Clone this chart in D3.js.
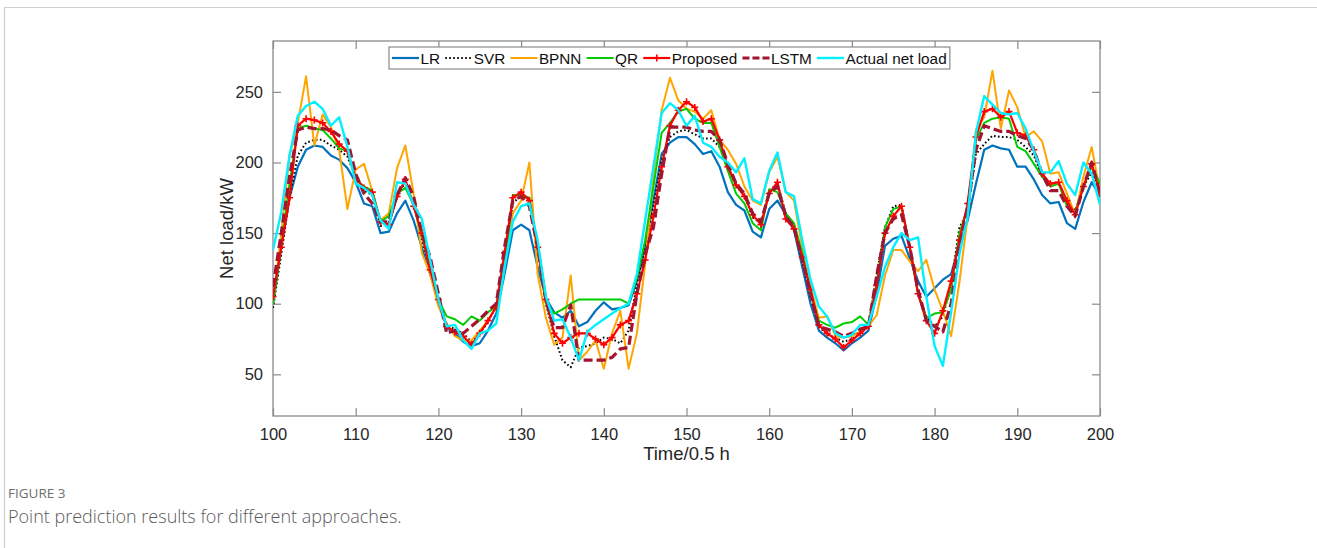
<!DOCTYPE html>
<html>
<head>
<meta charset="utf-8">
<script src="https://cdn.jsdelivr.net/npm/d3@7"></script>
<style>
  body { margin: 0; background: #fff; }
  text { font-family: Arial, "Liberation Sans", sans-serif; }
</style>
</head>
<body>
<svg id="grafica"></svg>
<script>
// Point prediction results, t = 100 ... 200 (half-hour steps)

const svg_w = 1317;
const svg_h = 548;
const margin = {l: 273, r: 217, t: 41, b: 132};

const t_start = 100; // first time step, one value per step after it

const x_ticks = [100, 110, 120, 130, 140, 150, 160, 170, 180, 190, 200];
const y_ticks = [50, 100, 150, 200, 250];
const x_limits = [100, 200];
const y_limits = [20.5, 286];

const series_names = ["LR", "SVR", "BPNN", "QR", "Proposed", "LSTM", "Actual net load"];

const lr = [100,140,175,197,209,212,211,205,202,196,186,171,169,150,151,164,173,159,140,121,
  102,83,79,73,70,72,81,93,121,152,156,152,126,104,94,90,95,84,87,95,
  101,96,97,99,116,140,173,206,214,218,218,213,206,208,197,179,170,166,151,147,
  167,173,163,152,126,100,81,76,72,67,72,76,81,107,141,146,148,132,116,105,
  111,117,121,142,159,185,209,212,210,209,197,197,188,177,171,172,157,153,172,186,176];

const svr = [97,135,175,205,214,216,216,212,209,204,190,180,177,155,157,175,186,171,145,124,
  102,85,82,79,73,79,87,98,131,171,177,173,140,100,77,60,55,69,70,72,
  76,75,72,81,114,140,169,202,218,222,223,220,217,217,211,198,183,177,161,157,
  180,185,164,156,130,105,84,78,76,73,75,79,84,121,154,169,170,140,107,91,
  84,91,114,154,165,206,213,219,218,218,216,211,205,190,185,186,171,166,183,193,179];

const bpnn = [100,150,205,228,261,212,234,225,209,167,195,199,180,159,164,196,212,178,136,121,
  98,86,77,74,74,81,88,98,126,164,173,200,121,90,71,76,120,60,66,74,
  54,79,95,54,79,128,190,237,260,244,238,236,231,237,216,209,199,183,173,170,
  193,204,179,173,140,112,90,91,77,76,77,80,84,92,120,138,138,130,123,131,
  110,95,77,115,162,223,232,265,224,251,239,218,222,215,192,193,178,163,190,211,179];

const qr = [100,140,185,224,226,224,223,217,210,208,188,183,180,158,162,178,182,170,148,125,
  103,91,89,85,91,88,94,98,126,177,177,175,140,100,93,96,100,103,103,103,
  103,103,103,100,118,145,183,221,228,236,238,231,228,228,211,194,178,171,157,152,
  181,179,164,157,136,107,88,85,83,86,87,91,85,115,154,167,169,140,107,90,
  93,94,110,150,168,216,228,231,232,231,211,208,199,190,183,185,169,164,183,197,185];

const proposed = [105,140,175,226,231,230,228,222,213,208,189,182,179,158,156,176,188,169,150,124,
  103,84,80,77,71,79,88,98,136,175,179,173,140,103,79,72,76,79,79,75,
  71,76,85,88,107,131,162,197,226,237,243,239,229,231,216,197,184,176,163,156,
  178,186,160,153,133,110,85,79,75,69,74,79,84,113,150,162,169,140,107,88,
  79,95,116,145,171,218,236,238,232,236,221,219,209,192,185,186,173,163,183,199,178];

const lstm = [112,150,190,223,225,224,224,223,219,216,192,178,171,158,158,177,189,176,150,133,
  107,79,81,79,84,89,95,100,140,173,176,169,140,102,83,83,99,60,60,60,
  60,62,68,69,107,135,154,192,225,225,225,223,222,222,216,199,185,178,164,158,
  178,183,162,154,131,107,84,82,80,77,79,82,84,120,150,160,163,140,110,88,
  84,80,100,140,168,209,226,224,222,222,219,217,209,192,180,180,169,162,183,200,178];

const actual = [138,165,205,233,240,243,238,226,232,211,185,182,177,159,153,186,185,170,160,131,
  103,84,85,74,68,79,81,86,126,158,169,171,145,105,88,89,76,60,80,85,
  89,93,97,100,121,159,197,235,242,237,226,233,214,211,204,200,193,203,174,171,
  194,207,179,176,145,117,98,91,79,76,78,85,85,105,126,140,150,145,147,105,
  70,56,94,135,162,221,247,241,235,234,235,224,208,193,193,201,185,177,200,192,170];

const series_values = [lr, svr, bpnn, qr, proposed, lstm, actual];

// estilo de cada serie
const styles = [
  {color: "#0072BD", width: 2.2, dash: null},
  {color: "#000000", width: 2, dash: "1.6,2.4"},
  {color: "#FFA500", width: 2, dash: null},
  {color: "#00CC00", width: 2, dash: null},
  {color: "#FF0000", width: 2.2, dash: null, marker: true},
  {color: "#A2142F", width: 3.2, dash: "9,4"},
  {color: "#00F0FF", width: 2.4, dash: null}
];

const svg = d3.select("#grafica")
  .attr("width", svg_w)
  .attr("height", svg_h);

// marco de la figura
svg.append("path")
  .attr("d", `M4.5,${svg_h} V7.5 H${svg_w}`)
  .attr("fill", "none")
  .attr("stroke", "#cfcfcf")
  .attr("stroke-width", 1.2);

const x_scale = d3.scaleLinear()
  .domain(x_limits)
  .range([margin.l, svg_w - margin.r]);

const y_scale = d3.scaleLinear()
  .domain(y_limits)
  .range([svg_h - margin.b, margin.t]);

draw_axes();
draw_lines();
draw_legend();
draw_caption();

function draw_axes() {
  const axis_col = "#8a8a8a";
  const x0 = x_scale.range()[0], x1 = x_scale.range()[1];
  const y0 = y_scale.range()[0], y1 = y_scale.range()[1];

  svg.append("rect")
    .attr("x", x0).attr("y", y1)
    .attr("width", x1 - x0).attr("height", y0 - y1)
    .attr("fill", "#fff");

  let bottom = svg.append("g")
    .attr("transform", `translate(0,${y0})`)
    .call(d3.axisBottom(x_scale).tickValues(x_ticks).tickSizeInner(-8).tickSizeOuter(0).tickPadding(12));
  let top = svg.append("g")
    .attr("transform", `translate(0,${y1})`)
    .call(d3.axisTop(x_scale).tickValues(x_ticks).tickSizeInner(-8).tickSizeOuter(0).tickFormat(""));
  let left = svg.append("g")
    .attr("transform", `translate(${x0},0)`)
    .call(d3.axisLeft(y_scale).tickValues(y_ticks).tickSizeInner(-8).tickSizeOuter(0).tickPadding(10));
  let right = svg.append("g")
    .attr("transform", `translate(${x1},0)`)
    .call(d3.axisRight(y_scale).tickValues(y_ticks).tickSizeInner(-8).tickSizeOuter(0).tickFormat(""));

  [bottom, top, left, right].forEach(g => {
    g.select(".domain").remove();
    g.selectAll("line").attr("stroke", axis_col).attr("stroke-width", 1.2);
    g.selectAll("text")
      .attr("fill", "#262626")
      .style("font-size", "16.5px")
      .style("font-family", "Arial, 'Liberation Sans', sans-serif");
  });

  svg.append("rect")
    .attr("x", x0).attr("y", y1)
    .attr("width", x1 - x0).attr("height", y0 - y1)
    .attr("fill", "none")
    .attr("stroke", axis_col)
    .attr("stroke-width", 1.3);

  svg.append("text")
    .attr("x", (x0 + x1) / 2)
    .attr("y", 460)
    .attr("text-anchor", "middle")
    .attr("fill", "#262626")
    .style("font-size", "18.5px")
    .text("Time/0.5 h");

  svg.append("text")
    .attr("transform", `translate(233,${(y0 + y1) / 2}) rotate(-90)`)
    .attr("text-anchor", "middle")
    .attr("fill", "#262626")
    .style("font-size", "18.5px")
    .text("Net load/kW");
}

function draw_lines() {
  svg.append("clipPath")
    .attr("id", "clip")
    .append("rect")
    .attr("x", x_scale.range()[0]).attr("y", y_scale.range()[1])
    .attr("width", x_scale.range()[1] - x_scale.range()[0])
    .attr("height", y_scale.range()[0] - y_scale.range()[1]);

  const plot = svg.append("g").attr("clip-path", "url(#clip)");

  const line = d3.line()
    .x((d, i) => x_scale(t_start + i))
    .y(d => y_scale(d));

  series_values.forEach((vals, k) => {
    const st = styles[k];
    plot.append("path")
      .datum(vals)
      .attr("d", line)
      .attr("fill", "none")
      .attr("stroke", st.color)
      .attr("stroke-width", st.width)
      .attr("stroke-dasharray", st.dash)
      .attr("stroke-linejoin", "round");

    if (st.marker) {
      plot.append("g")
        .selectAll("path")
        .data(vals)
        .enter().append("path")
        .attr("d", (d, i) => {
          const px = x_scale(t_start + i), py = y_scale(d);
          return `M${px - 3.5},${py}H${px + 3.5}M${px},${py - 3.5}V${py + 3.5}`;
        })
        .attr("stroke", st.color)
        .attr("stroke-width", 1.6);
    }
  });
}

function draw_legend() {
  const lg = svg.append("g");
  const box = {x: 389, y: 47, h: 22};
  const line_len = 27;
  let x = box.x + 3;
  const ymid = box.y + box.h / 2;

  const frame = lg.append("rect")
    .attr("x", box.x).attr("y", box.y)
    .attr("height", box.h)
    .attr("fill", "#fff")
    .attr("stroke", "#8a8a8a")
    .attr("stroke-width", 1.2);

  series_names.forEach((name, k) => {
    const st = styles[k];
    lg.append("line")
      .attr("x1", x).attr("x2", x + line_len)
      .attr("y1", ymid).attr("y2", ymid)
      .attr("stroke", st.color)
      .attr("stroke-width", st.width)
      .attr("stroke-dasharray", st.dash ? (k == 5 ? "7,3" : st.dash) : null);
    if (st.marker) {
      const mx = x + line_len / 2;
      lg.append("path")
        .attr("d", `M${mx - 3.5},${ymid}H${mx + 3.5}M${mx},${ymid - 3.5}V${ymid + 3.5}`)
        .attr("stroke", st.color)
        .attr("stroke-width", 1.6);
    }
    const t = lg.append("text")
      .attr("x", x + line_len + 1.5)
      .attr("y", ymid + 5.5)
      .attr("fill", "#111")
      .style("font-size", "15.3px")
      .text(name);
    x = x + line_len + 1.5 + t.node().getComputedTextLength() + 5.2;
  });

  frame.attr("width", x - box.x - 2);
}

function draw_caption() {
  svg.append("text")
    .attr("x", 8)
    .attr("y", 498)
    .attr("fill", "#6e6e6e")
    .style("font-family", "'Open Sans', sans-serif")
    .style("font-size", "13.5px")
    .text("FIGURE 3");

  svg.append("text")
    .attr("x", 8)
    .attr("y", 523)
    .attr("fill", "#5a5a5a")
    .style("font-family", "'Open Sans', sans-serif")
    .style("font-weight", 300)
    .style("font-size", "18px")
    .text("Point prediction results for different approaches.");
}
</script>
</body>
</html>
